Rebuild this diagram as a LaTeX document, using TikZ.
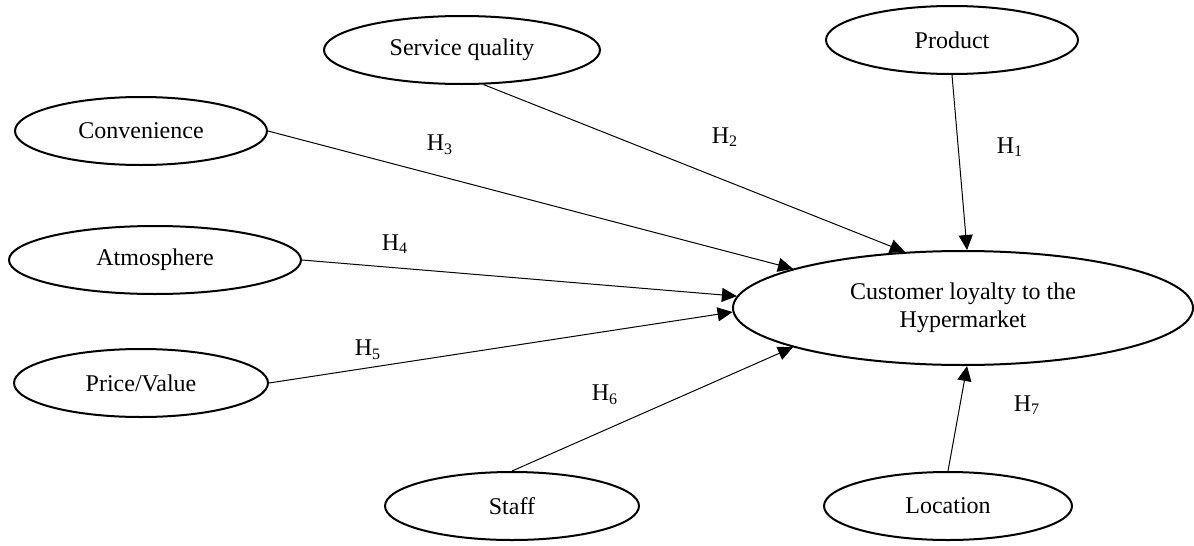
\documentclass[tikz,border=0pt]{standalone}
\usepackage{fontspec}
\setmainfont{Liberation Serif}
\usetikzlibrary{shapes.geometric, arrows.meta}

\tikzset{
	factor/.style={draw, ellipse, line width=1pt, inner sep=0pt, align=center,
		font=\fontsize{12}{14}\selectfont},
	hyp/.style={font=\fontsize{12}{14}\selectfont},
}

\begin{document}
\begin{tikzpicture}[x=0.5pt, y=-0.5pt]
			\useasboundingbox (0,0) rectangle (1194,546);
			
			\node [factor, minimum width=230pt, minimum height=57pt] (loyal) at (963,308) {Customer loyalty to the\\Hypermarket};
			
			\begin{scope}[minimum height=34pt]
				\node [factor, minimum width=126pt] (product) at (952,40) {Product};
				\node [factor, minimum width=138pt] (service) at (462,50) {Service quality};
				\node [factor, minimum width=126pt] (conv) at (141,131) {Convenience};
				\node [factor, minimum width=146pt] (atmos) at (155,260) {Atmosphere};
				\node [factor, minimum width=127pt] (price) at (141,383) {Price/Value};
				\node [factor, minimum width=127pt] (staff) at (512,506) {Staff};
				\node [factor, minimum width=124pt] (location) at (948,506) {Location};
			\end{scope}
			
			\begin{scope}[-{Triangle[length=7.5pt, width=7pt]}, line width=0.5pt]
				\draw (product.south) -- (loyal.86);
				\draw (service.302) -- (loyal.136.5);
				\draw (conv.east) -- (loyal.167);
				\draw (atmos.east) -- (loyal.177);
				\draw (price.east) -- (loyal.181);
				\draw (staff.north) -- (loyal.193.5);
				\draw (location.north) -- (loyal.274);
			\end{scope}
			
			\begin{scope}[hyp]
				\node (h1) at (1010,147) {H\textsubscript{1}};
				\node (h2) at (725,137) {H\textsubscript{2}};
				\node (h3) at (440,145) {H\textsubscript{3}};
				\node (h4) at (395,244) {H\textsubscript{4}};
				\node (h5) at (368,350) {H\textsubscript{5}};
				\node (h6) at (605,395) {H\textsubscript{6}};
				\node (h7) at (1027,405) {H\textsubscript{7}};
			\end{scope}
		\end{tikzpicture}
\end{document}
